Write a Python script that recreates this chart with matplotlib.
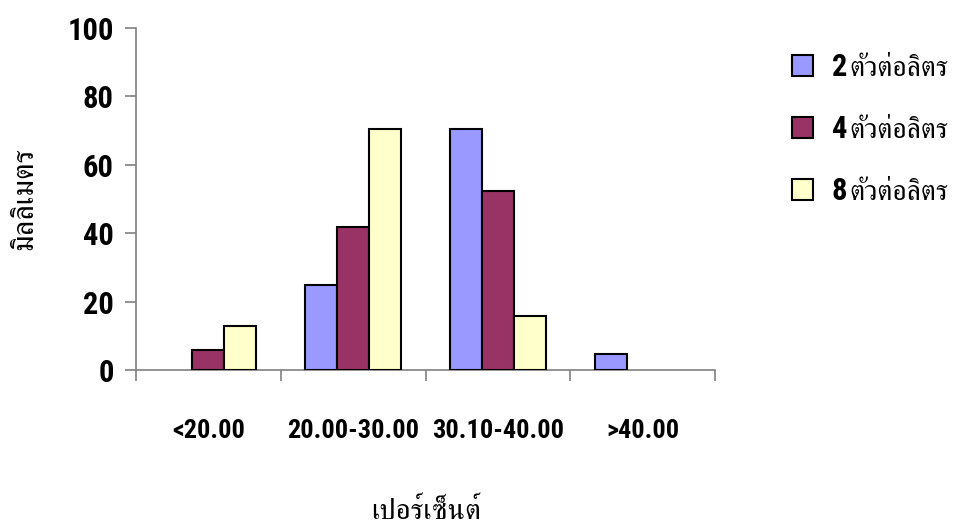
import matplotlib
matplotlib.use('Agg')
import matplotlib.pyplot as plt
import numpy as np
from matplotlib import font_manager
from matplotlib.ft2font import FT2Font
from matplotlib.patches import Patch

categories = ['<20.00', '20.00-30.00', '30.10-40.00', '>40.00']
series_nums = ['2', '4', '8']
series_unit = 'ตัวต่อลิตร'
vals_2 = [0, 24.8, 70.6, 4.7]
vals_4 = [5.8, 41.8, 52.4, 0]
vals_8 = [12.9, 70.6, 15.9, 0]
colors = ['#9999FF', '#993366', '#FFFFCC']


def find_thai_font():
    # pick any installed font that carries Thai glyphs, serif ones first
    found = []
    for f in font_manager.fontManager.ttflist:
        try:
            if 0x0E01 in FT2Font(f.fname).get_charmap():
                found.append(f.name)
        except Exception:
            pass
    found.sort(key=lambda n: ('Serif' not in n, n))
    return found[0] if found else 'DejaVu Sans'


def first_installed(names):
    have = {f.name for f in font_manager.fontManager.ttflist}
    for n in names:
        if n in have:
            return n
    return 'DejaVu Serif'


thai = find_thai_font()
narrow = first_installed(['Liberation Sans Narrow', 'Roboto Condensed',
                          'DejaVu Serif Condensed', 'DejaVu Sans Condensed'])
num_font = [narrow, 'DejaVu Serif']

fig = plt.figure(figsize=(9.56, 5.30), dpi=100)
ax = fig.add_axes([0.1423, 0.3019, 0.6057, 0.6453])

x = np.arange(len(categories))
w = 0.22
for i, vals in enumerate([vals_2, vals_4, vals_8]):
    vals = np.array(vals, dtype=float)
    keep = vals > 0
    ax.bar(x[keep] + (i - 1) * w, vals[keep], w, color=colors[i],
           edgecolor='black', linewidth=1.5, zorder=3)

ax.set_xlim(-0.5, 3.5)
ax.set_ylim(0, 100)
ax.set_yticks(range(0, 101, 20))

for s in ['top', 'right']:
    ax.spines[s].set_visible(False)
for s in ['left', 'bottom']:
    ax.spines[s].set_color('#808080')
    ax.spines[s].set_linewidth(1.2)

ax.set_xticks(x)
ax.set_xticklabels(categories)
ax.set_xticks(np.arange(-0.5, 3.6, 1), minor=True)
ax.tick_params(axis='x', which='major', length=0, pad=35)
ax.tick_params(axis='x', which='minor', length=8, color='#808080', width=1.2)
ax.tick_params(axis='y', length=8, color='#808080', width=1.2, pad=8)
for lab in ax.get_xticklabels():
    lab.set_family(num_font)
    lab.set_fontweight('bold')
    lab.set_fontsize(19)
for lab in ax.get_yticklabels():
    lab.set_family(num_font)
    lab.set_fontweight('bold')
    lab.set_fontsize(22)

ax.set_ylabel('มิลลิเมตร', family=[thai, 'DejaVu Sans'], fontsize=22, labelpad=20)
ax.set_xlabel('เปอร์เซ็นต์', family=[thai, 'DejaVu Sans'], fontsize=21, labelpad=40)

# legend: bold number from the legend itself, unit text placed right after it
handles = [Patch(facecolor=c, edgecolor='black', linewidth=1.5) for c in colors]
leg = ax.legend(handles, series_nums, loc='upper left', bbox_to_anchor=(1.085, 1.01),
                frameon=False, prop={'family': num_font, 'weight': 'bold', 'size': 22},
                handlelength=0.7, handleheight=0.7, handletextpad=0.6,
                labelspacing=1.05)
for t in leg.get_texts():
    ax.annotate(series_unit, xy=(1, 0), xycoords=t, xytext=(2, 0),
                textcoords='offset points', ha='left', va='bottom',
                family=[thai, 'DejaVu Sans'], fontsize=20, zorder=10,
                annotation_clip=False)

fig.savefig('out.png', dpi=100)
